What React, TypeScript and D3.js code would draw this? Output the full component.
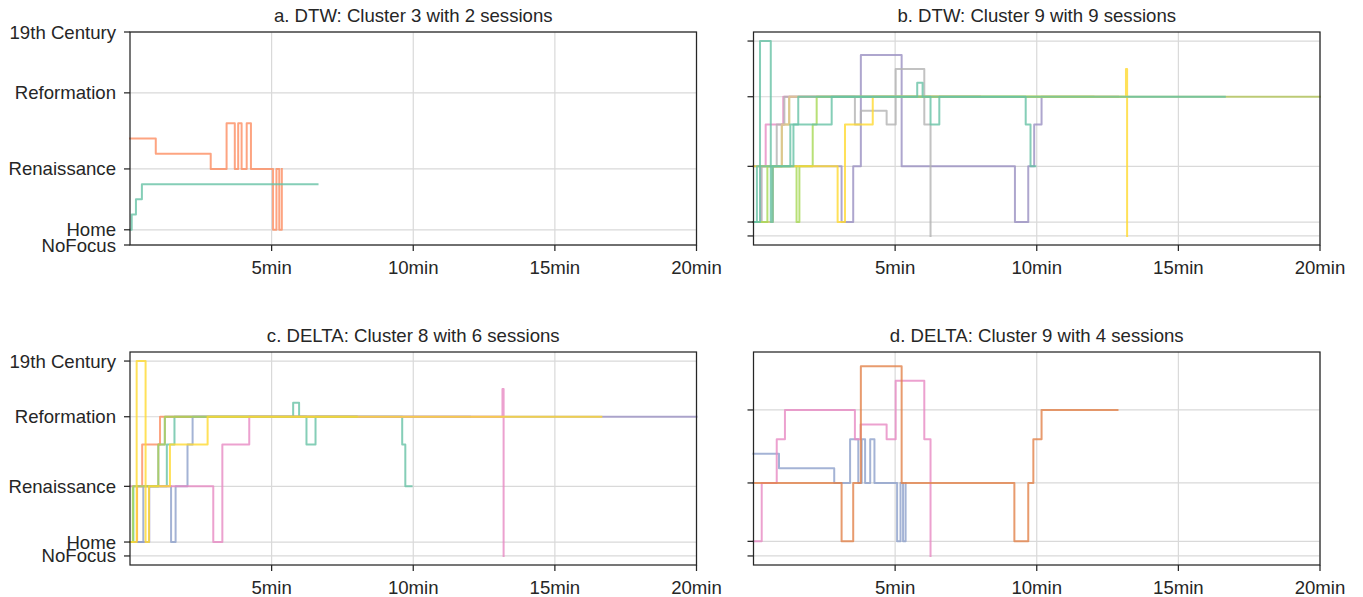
import React from 'react'
import * as d3 from 'd3'

// y axis: focus level codes
const levelNames = ['NoFocus', 'Home', 'Renaissance', 'Reformation', '19th Century']
const levelValues = [0, 1, 5, 10, 14]
const minuteTicks = [5, 10, 15, 20]

// sessions as [minute, level] steps
// a. DTW cluster 3
const a1 = [[0, 7], [0.91, 6], [2.85, 5], [3.41, 8], [3.70, 5], [3.82, 8], [3.94, 5], [4.12, 8], [4.27, 5], [5.05, 1], [5.17, 5], [5.27, 1], [5.36, 5]]
const a2 = [[0, 1], [0.06, 2], [0.21, 3], [0.42, 4], [6.62, 4]]

// b. DTW cluster 9
const b1 = [[0, 5], [3.11, 1], [3.52, 5], [3.79, 13], [5.23, 5], [9.23, 1], [9.70, 5], [9.91, 8], [10.17, 10], [12.87, 10]]
const b2 = [[0, 1], [0.68, 5], [1.0, 8], [1.26, 10], [20, 10]]
const b3 = [[0, 1], [0.25, 5], [0.43, 8], [1.05, 10], [8.0, 10]]
const b4 = [[0, 1], [0.29, 5], [0.82, 8], [1.09, 10], [3.58, 8], [3.79, 9], [4.70, 8], [5.02, 12], [6.03, 8], [6.25, 0]]
const b5 = [[0, 1], [0.68, 5], [1.0, 8], [1.26, 10], [8.0, 10]]
const b6 = [[0, 1], [0.49, 5], [1.52, 1], [1.62, 5], [2.09, 8], [2.23, 10], [12.0, 10]]
const b7 = [[0, 5], [2.97, 1], [3.23, 8], [4.21, 10], [13.15, 12], [13.19, 0]]
const b8 = [[0, 1], [0.12, 5], [1.3, 8], [1.58, 10], [5.78, 11], [5.97, 10], [6.25, 8], [6.56, 10], [9.61, 8], [9.78, 5], [9.95, 5]]
const b9 = [[0, 1], [0.23, 14], [0.61, 1], [0.68, 5], [1.41, 8], [2.76, 10], [16.64, 10]]

// c. DELTA cluster 8
const c1 = [[0, 1], [0.68, 5], [1.0, 8], [1.23, 10], [20, 10]]
const c2 = [[0, 1], [0.12, 5], [1.3, 8], [1.57, 10], [5.76, 11], [5.97, 10], [6.23, 8], [6.55, 10], [9.61, 8], [9.72, 5], [9.94, 5]]
const c3 = [[0, 1], [0.25, 5], [0.43, 8], [1.06, 10], [8.0, 10]]
const c4 = [[0, 1], [0.47, 5], [1.45, 1], [1.61, 5], [2.03, 8], [2.21, 10], [12.0, 10]]
const c5 = [[0, 5], [2.94, 1], [3.26, 8], [4.21, 10], [13.15, 12], [13.19, 0]]
const c6 = [[0, 1], [0.1, 5], [1.0, 8], [1.23, 10], [8.0, 10]]
const c7 = [[0, 1], [0.235, 14], [0.55, 1], [0.67, 5], [1.41, 8], [2.74, 10], [16.64, 10]]

// d. DELTA cluster 9
const d1 = [[0, 7], [0.9, 6], [2.85, 5], [3.41, 8], [3.70, 5], [3.82, 8], [3.94, 5], [4.12, 8], [4.27, 5], [5.07, 1], [5.19, 5], [5.28, 1], [5.37, 5]]
const d2 = [[0, 1], [0.29, 5], [0.82, 8], [1.11, 10], [3.58, 8], [3.78, 9], [4.70, 8], [5.02, 12], [6.03, 8], [6.25, 0]]
const d3s = [[0, 5], [3.11, 1], [3.52, 5], [3.79, 13], [5.23, 5], [9.21, 1], [9.70, 5], [9.88, 8], [10.17, 10], [12.85, 10]]

const teal = '#66c2a5', orange = '#fc8d62', blue = '#8da0cb', pink = '#e78ac3'
const lime = '#a6d854', yellow = '#ffd92f', tan = '#e5c494', grey = '#b3b3b3'

const panels = [
    {
        title: 'a. DTW: Cluster 3 with 2 sessions', left: 130, top: 32, yDomain: [0, 14], labels: true,
        series: [[a1, orange], [a2, teal]],
    },
    {
        title: 'b. DTW: Cluster 9 with 9 sessions', left: 753.5, top: 32, yDomain: [-0.65, 14.65], labels: false,
        series: [[b1, '#9a90c2'], [b2, '#b3c45a'], [b3, pink], [b4, grey], [b5, tan], [b6, lime], [b7, yellow], [b8, teal], [b9, teal]],
    },
    {
        title: 'c. DELTA: Cluster 8 with 6 sessions', left: 130, top: 352, yDomain: [-0.65, 14.65], labels: true,
        series: [[c1, '#9c94c4'], [c2, teal], [c3, orange], [c4, blue], [c5, pink], [c6, lime], [c7, yellow]],
    },
    {
        title: 'd. DELTA: Cluster 9 with 4 sessions', left: 753.5, top: 352, yDomain: [-0.62, 13.97], labels: false,
        series: [[d1, blue], [d2, pink], [d3s, '#e2824a']],
    },
]

const PW = 566.5
const PH = 213
const ink = '#262626'
const font = '"Liberation Sans", Arial, sans-serif'

function Panel({ p }) {
    const x = d3.scaleLinear().domain([0, 20]).range([p.left, p.left + PW])
    const y = d3.scaleLinear().domain(p.yDomain).range([p.top + PH, p.top])
    const line = d3.line().x(d => x(d[0])).y(d => y(d[1])).curve(d3.curveStepAfter)
    const bottom = p.top + PH
    const yTicks = levelValues.map((v, i) => ({ v, name: levelNames[i] })).filter(t => t.v >= p.yDomain[0] && t.v <= p.yDomain[1])

    return (
        <g>
            {/* grid */}
            {minuteTicks.map(m => (
                <line key={'gx' + m} x1={x(m)} x2={x(m)} y1={p.top} y2={bottom} stroke="#d9d9d9" strokeWidth={1.2} />
            ))}
            {yTicks.map(t => (
                <line key={'gy' + t.v} x1={p.left} x2={p.left + PW} y1={y(t.v)} y2={y(t.v)} stroke="#d9d9d9" strokeWidth={1.2} />
            ))}

            {/* sessions */}
            {p.series.map(([data, color], i) => (
                <path key={i} d={line(data)} fill="none" stroke={color} strokeOpacity={0.8}
                    strokeWidth={2} strokeLinejoin="round" strokeLinecap="square" />
            ))}

            {/* frame */}
            <rect x={p.left} y={p.top} width={PW} height={PH} fill="none" stroke={ink} strokeWidth={1.25} />

            {/* y ticks */}
            {yTicks.map(t => (
                <g key={'ty' + t.v}>
                    <line x1={p.left - 6} x2={p.left} y1={y(t.v)} y2={y(t.v)} stroke={ink} strokeWidth={1.25} />
                    {p.labels && (
                        <text x={p.left - 14} y={y(t.v)} dy="0.35em" textAnchor="end" fontSize={18.6} fill={ink} fontFamily={font}>
                            {t.name}
                        </text>
                    )}
                </g>
            ))}

            {/* x ticks */}
            {minuteTicks.map(m => (
                <g key={'tx' + m}>
                    <line x1={x(m)} x2={x(m)} y1={bottom} y2={bottom + 6} stroke={ink} strokeWidth={1.25} />
                    <text x={x(m)} y={bottom + 29} textAnchor="middle" fontSize={18.6} fill={ink} fontFamily={font}>
                        {m}min
                    </text>
                </g>
            ))}

            <text x={p.left + PW / 2} y={p.top - 10} textAnchor="middle" fontSize={18.6} fill={ink} fontFamily={font}>
                {p.title}
            </text>
        </g>
    )
}

export default function App() {
    return (
        <div style={{ position: 'absolute', left: 0, top: 0 }}>
            <svg width={1363} height={597} style={{ display: 'block', background: '#fff' }}>
                {panels.map((p, i) => <Panel key={i} p={p} />)}
            </svg>
        </div>
    )
}
